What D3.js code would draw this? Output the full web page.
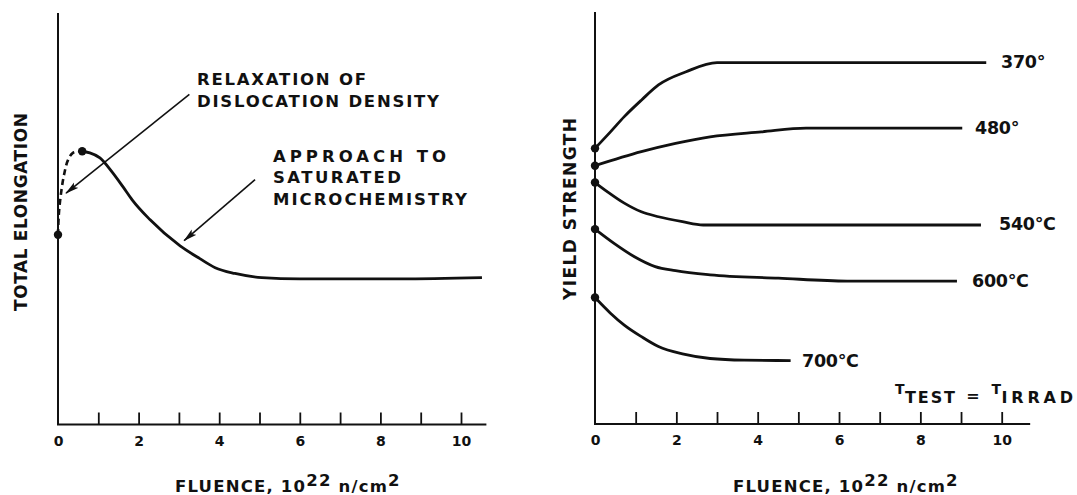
<!DOCTYPE html>
<html><head><meta charset="utf-8">
<script src="https://cdn.jsdelivr.net/npm/d3@7"></script>
<style>
html,body{margin:0;padding:0;background:#fff;}
svg text{font-family:"DejaVu Sans","Liberation Sans",Arial,sans-serif;font-weight:bold;fill:#111;}
</style></head>
<body><svg id="c" width="1077" height="495"></svg>
<script>
// ---------- data ----------
const xTicks = [0,1,2,3,4,5,6,7,8,9,10];
const xTickLabels = [0,2,4,6,8,10];
const xTitleMain = "FLUENCE, 10";
const xTitleSup = "22";
const xTitleUnit = " n/cm";
const xTitleUnitSup = "2";

// left panel: total elongation (arbitrary units 0-100)
const elongDashed = [[0,46.1],[0.02,51],[0.07,55.8],[0.15,60.7],[0.25,64.3],[0.37,66],[0.57,66.4]];
const elongSolid = [[0.57,66.4],[0.79,66],[1.04,64.8],[1.34,61.4],[1.61,57.8],[1.84,54.6],[2.28,49.8],[3.03,43.4],[3.52,40.3],[3.9,38.1],[4.39,36.7],[5.06,35.7],[6.0,35.4],[8.49,35.4],[10.52,35.7]];
const elongDots = [[0,46.1],[0.6,66.4]];
const leftYTitle = "TOTAL ELONGATION";
const annot1 = ["RELAXATION OF","DISLOCATION DENSITY"];
const annot2 = ["APPROACH TO","SATURATED","MICROCHEMISTRY"];
const arrow1 = [[3.26,80.2],[0.2,56.2]];   // [tail],[head] in data units
const arrow2 = [[4.89,59.5],[3.13,44.7]];

// right panel: yield strength (arbitrary units 0-100)
const seriesNames = ["370°","480°","540°C","600°C","700°C"];
const ys370 = [[0,66.9],[0.38,70.9],[0.72,74.6],[1.14,78.6],[1.56,82.3],[2.24,85.5],[3.0,87.7],[9.62,87.7]];
const ys480 = [[0,62.7],[1.14,66.1],[1.98,68.1],[2.83,69.7],[4.09,70.9],[5.19,71.8],[9.03,71.8]];
const ys540 = [[0,58.6],[0.3,56.4],[0.72,53.6],[1.14,51.5],[1.56,50.3],[2.15,49.1],[2.66,48.3],[9.49,48.3]];
const ys600 = [[0,47.3],[0.46,43.9],[0.97,40.6],[1.48,38.2],[1.98,37.2],[2.83,36.2],[4.51,35.4],[6.2,34.7],[8.9,34.7]];
const ys700 = [[0,30.7],[0.38,26.9],[0.72,24.0],[1.14,21.2],[1.56,18.8],[2.15,17.0],[2.83,15.9],[3.67,15.5],[4.81,15.4]];
const rightYTitle = "YIELD STRENGTH";

// ---------- layout ----------
const svg = d3.select("#c");
const xL = d3.scaleLinear([0,10],[58,461]);
const yL = d3.scaleLinear([0,100],[424.5,13]);
const xR = d3.scaleLinear([0,10],[595,1001.7]);
const yR = d3.scaleLinear([0,100],[424,12]);

function panel(x, y, xEnd){
  const g = svg.append("g");
  g.append("line").attr("x1",x(0)).attr("x2",x(0)).attr("y1",y(100)).attr("y2",y(0))
    .attr("stroke","#111").attr("stroke-width",2);
  g.append("line").attr("x1",x(0)-1).attr("x2",x(xEnd)).attr("y1",y(0)).attr("y2",y(0))
    .attr("stroke","#111").attr("stroke-width",2);
  const ax = d3.axisBottom(x).tickValues(xTicks).tickSizeInner(-12).tickSizeOuter(0).tickPadding(11.5)
    .tickFormat(d => xTickLabels.includes(d) ? String(d) : "");
  const ag = g.append("g").attr("transform",`translate(0,${y(0)})`).call(ax);
  ag.select(".domain").remove();
  ag.selectAll(".tick line").attr("stroke","#111").attr("stroke-width",1.8);
  ag.selectAll(".tick").filter(d=>d===0).select("line").remove();
  ag.selectAll(".tick text").attr("font-size",14).attr("fill","#111")
    .style("font-family",'"DejaVu Sans",Arial,sans-serif').style("font-weight","bold");
  return g;
}
const gL = panel(xL, yL, 10.63);
const gR = panel(xR, yR, 10.7);

// x titles
function xTitle(x0){
  const t = svg.append("text").attr("x",x0).attr("y",492).attr("font-size",16.5).attr("letter-spacing",1.2);
  t.append("tspan").text(xTitleMain);
  t.append("tspan").attr("dy",-6).text(xTitleSup);
  t.append("tspan").attr("dy",6).text(xTitleUnit);
  t.append("tspan").attr("dy",-6).text(xTitleUnitSup);
}
xTitle(175); xTitle(733);

// y titles
svg.append("text").attr("transform","translate(27,212) rotate(-90)").attr("text-anchor","middle")
  .attr("font-size",17).attr("textLength",198).attr("lengthAdjust","spacing").text(leftYTitle);
svg.append("text").attr("transform","translate(576,209) rotate(-90)").attr("text-anchor","middle")
  .attr("font-size",17).attr("textLength",182).attr("lengthAdjust","spacing").text(rightYTitle);

// ---------- left curves ----------
const lineL = d3.line().x(d=>xL(d[0])).y(d=>yL(d[1])).curve(d3.curveMonotoneX);
gL.append("path").attr("d", d3.line().x(d=>xL(d[0])).y(d=>yL(d[1])).curve(d3.curveCatmullRom)(elongDashed))
  .attr("fill","none").attr("stroke","#111").attr("stroke-width",2.6).attr("stroke-dasharray","6,4");
gL.append("path").attr("d", lineL(elongSolid)).attr("fill","none").attr("stroke","#111").attr("stroke-width",2.8);
gL.selectAll("circle.d").data(elongDots).join("circle").attr("cx",d=>xL(d[0])).attr("cy",d=>yL(d[1]))
  .attr("r",4.2).attr("fill","#111");

// arrows
svg.append("defs").append("marker").attr("id","ah").attr("viewBox","0 0 14 8").attr("refX",13).attr("refY",4)
  .attr("markerWidth",14).attr("markerHeight",8).attr("markerUnits","userSpaceOnUse").attr("orient","auto")
  .append("path").attr("d","M0,0.5 L14,4 L0,7.5 L3,4 Z").attr("fill","#111");
[arrow1, arrow2].forEach(a=>{
  gL.append("line").attr("x1",xL(a[0][0])).attr("y1",yL(a[0][1])).attr("x2",xL(a[1][0])).attr("y2",yL(a[1][1]))
    .attr("stroke","#111").attr("stroke-width",1.6).attr("marker-end","url(#ah)");
});

// annotation text
const a1w = [169,242], a2w = [173,128,194];
annot1.forEach((s,i)=>svg.append("text").attr("x",197).attr("y",85+i*21.5).attr("font-size",16.5)
  .attr("textLength",a1w[i]).attr("lengthAdjust","spacing").text(s));
annot2.forEach((s,i)=>svg.append("text").attr("x",273).attr("y",161.5+i*21.8).attr("font-size",16.5)
  .attr("textLength",a2w[i]).attr("lengthAdjust","spacing").text(s));

// ---------- right curves ----------
const lineR = d3.line().x(d=>xR(d[0])).y(d=>yR(d[1])).curve(d3.curveMonotoneX);
const seriesR = [ys370, ys480, ys540, ys600, ys700];
const labelPos = [[1001,68.3],[975,134],[999,230],[972,287],[802,366.5]];
seriesR.forEach((s,i)=>{
  gR.append("path").attr("d",lineR(s)).attr("fill","none").attr("stroke","#111").attr("stroke-width",2.8);
  gR.append("circle").attr("cx",xR(s[0][0])).attr("cy",yR(s[0][1])).attr("r",4.2).attr("fill","#111");
  gR.append("text").attr("x",labelPos[i][0]).attr("y",labelPos[i][1]).attr("font-size",17.5)
    .attr("letter-spacing",-0.3).text(seriesNames[i]);
});

// T_TEST = T_IRRAD
const tt = svg.append("g");
tt.append("text").attr("x",895).attr("y",394).attr("font-size",14).text("T");
tt.append("text").attr("x",905).attr("y",402.7).attr("font-size",16).attr("textLength",50).attr("lengthAdjust","spacing").text("TEST");
tt.append("text").attr("x",973).attr("y",401).attr("font-size",16).attr("text-anchor","middle").text("=");
tt.append("text").attr("x",991.5).attr("y",394).attr("font-size",14).text("T");
tt.append("text").attr("x",1001.5).attr("y",402.7).attr("font-size",16).attr("textLength",71.5).attr("lengthAdjust","spacing").text("IRRAD");
</script></body></html>
